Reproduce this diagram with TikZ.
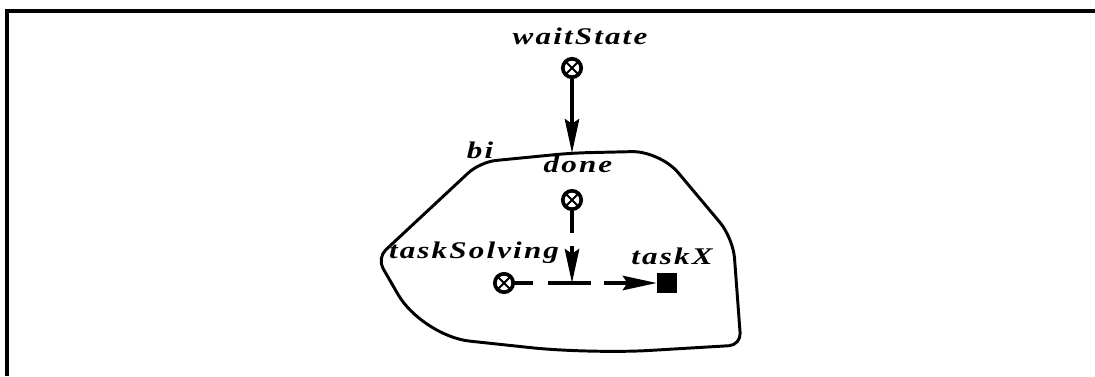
\documentclass[tikz,border=0pt]{standalone}
\usepackage{fontspec}
\setmainfont{Liberation Serif}
\newfontfamily\tagfont{Liberation Serif}[LetterSpace=9, FakeStretch=1.3]
\usepackage{tikz}
\usetikzlibrary{arrows.meta, positioning, calc}

\begin{document}
\begin{tikzpicture}[
    node distance=5mm,
    lbl/.style={inner sep=0pt, font=\tagfont\bfseries\itshape\fontsize{17}{20}\selectfont},
    place/.style={draw, circle, line width=2.6pt, minimum size=0.46cm, inner sep=0pt,
      path picture={\draw[line width=1.4pt]
        (path picture bounding box.north west) -- (path picture bounding box.south east)
        (path picture bounding box.north east) -- (path picture bounding box.south west);}},
    sink/.style={fill=black, minimum size=0.5cm, inner sep=0pt},
    flow/.style={line width=2.6pt, -{Stealth[length=8.5mm, width=3.6mm, inset=1.2mm]}},
    region/.style={line width=2.1pt}]
  \useasboundingbox (0,0) rectangle (27.375,9.4);
  % cropped frame, top and left edges only
  \draw[line width=2.6pt] (0.175,0) |- (27.375,9.125);

  % the region bi
  \coordinate (entry) at (14.3,5.575);
  \draw[region] (entry) [rounded corners=0.7cm] -- (16.5,5.625)
        [rounded corners=0.5cm] -- (18.325,3.45)
        [rounded corners=0.3cm] -- (18.525,0.775)
        [rounded corners=1.5cm] -- (14.75,0.55)
        [rounded corners=1.2cm] -- (10.55,1.0)
        [rounded corners=0.3cm] -- (9.425,2.95)
        [rounded corners=0.4cm] -- (12.0,5.35) -- cycle;
  \node[lbl, anchor=base] (bi) at (12.0,5.45) {bi};

  % places and the sink
  \node[place] (ws)   at (14.3,7.7) {};
  \node[place] (done) at (14.3,4.4) {};
  \node[place] (ts)   at (12.6,2.325) {};
  \node[sink]  (tx)   at (16.675,2.325) {};
  \coordinate (jn) at (done |- ts);

  \node[lbl, above=0.3cm of ws, xshift=0.2cm]     (wslbl)   {waitState};
  \node[lbl, above=0.4cm of done, xshift=0.15cm]  (donelbl) {done};
  \node[lbl, above=0.2cm of ts, xshift=-0.75cm]   (tslbl)   {taskSolving};
  \node[lbl, above=0.2cm of tx, xshift=0.125cm]   (txlbl)   {taskX};

  % connectors
  \draw[flow] (ws) -- (entry);
  \draw[flow, dash pattern=on 0.55cm off 0.325cm on 3cm] (done) -- (jn);
  \draw[flow, dash pattern=on 0.45cm off 0.375cm on 1.075cm off 0.325cm on 4cm] (ts) -- (tx);
\end{tikzpicture}
\end{document}
